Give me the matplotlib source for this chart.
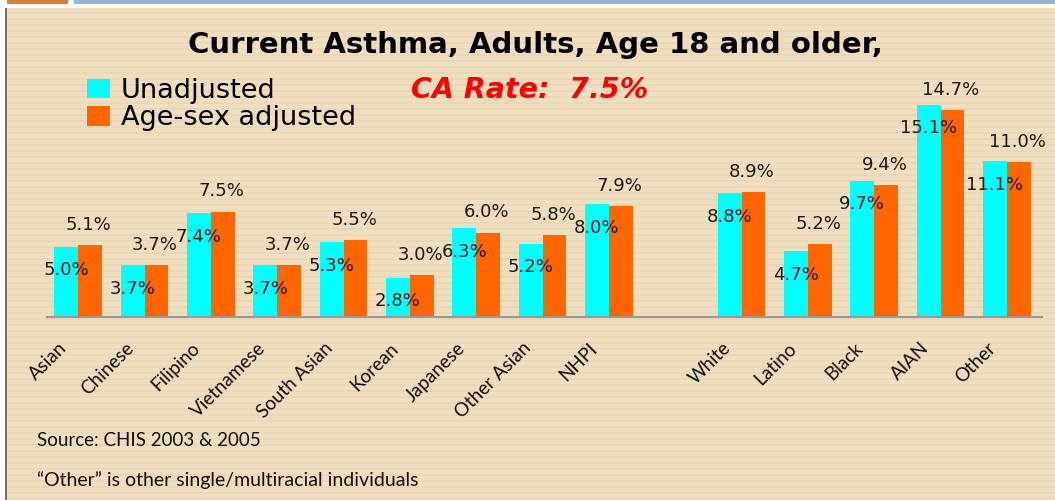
import matplotlib
matplotlib.use("Agg")
import matplotlib.pyplot as plt
from matplotlib.transforms import ScaledTranslation
import numpy as np

# Current asthma prevalence, adults 18+, by race/ethnicity (percent)
categories = ["Asian", "Chinese", "Filipino", "Vietnamese", "South Asian", "Korean",
              "Japanese", "Other Asian", "NHPI", "White", "Latino", "Black", "AIAN", "Other"]
unadjusted = [5.0, 3.7, 7.4, 3.7, 5.3, 2.8, 6.3, 5.2, 8.0, 8.8, 4.7, 9.7, 15.1, 11.1]
age_sex_adjusted = [5.1, 3.7, 7.5, 3.7, 5.5, 3.0, 6.0, 5.8, 7.9, 8.9, 5.2, 9.4, 14.7, 11.0]
series_names = ["Unadjusted", "Age-sex adjusted"]
title_text = "Current Asthma, Adults, Age 18 and older,"
rate_text = "CA Rate:  7.5%"
notes = ["Source: CHIS 2003 & 2005", "\u201cOther\u201d is other single/multiracial individuals"]

CYAN = "#00FFFF"
ORANGE = "#FF6600"

W, H = 1055, 500
fig = plt.figure(figsize=(W / 100, H / 100), dpi=100)

# slide background: striped beige panel, thin header bars, left border
bg = np.ones((H, W, 3))
base = np.array([239, 223, 192]) / 255
stripe = np.array([234, 216, 183]) / 255
rows = np.arange(H)
panel = np.where(((rows % 6) < 2)[:, None], stripe, base)
bg[8:, 6:, :] = panel[8:, None, :]
bg[8:, 5:7, :] = np.array([120, 110, 95]) / 255
bg[0:4, 7:68, :] = np.array([224, 123, 57]) / 255
bg[0:4, 74:, :] = np.array([149, 179, 215]) / 255
fig.figimage(bg, 0, 0, zorder=-10)

ax = fig.add_axes([47 / W, (H - 317) / H, 995 / W, 225 / H])
ax.set_zorder(2)
ax.patch.set_alpha(0)

# leave one empty slot between the Asian subgroups and the other groups
pos = np.array([i if i < 9 else i + 1 for i in range(len(categories))], dtype=float)
bw = 0.36
b1 = ax.bar(pos - bw / 2, unadjusted, bw, color=CYAN, label=series_names[0], zorder=2)
b2 = ax.bar(pos + bw / 2, age_sex_adjusted, bw, color=ORANGE, label=series_names[1], zorder=2)

for x, v in zip(pos - bw / 2, unadjusted):
    ax.annotate(f"{v:.1f}%", (x, v), xytext=(0, -17), textcoords="offset points",
                ha="center", va="center", fontsize=13, color="#1a1a1a", zorder=3)
for x, v in zip(pos + bw / 2, age_sex_adjusted):
    ax.annotate(f"{v:.1f}%", (x, v), xytext=(-1, 14.5), textcoords="offset points",
                ha="center", va="center", fontsize=13, color="#1a1a1a", zorder=3)

ax.set_xlim(-0.47, 14.53)
ax.set_ylim(0, 16)
ax.set_yticks([])
ax.set_xticks(pos)
ax.set_xticklabels(categories, rotation=45, ha="right", va="center",
                   rotation_mode="anchor", fontfamily="Lato", fontsize=13.5, color="#111111")
ax.tick_params(axis="x", length=0, pad=20.5)
# rotated labels sit a little to the left of their category
shift = ScaledTranslation(-14 / 100, 0, fig.dpi_scale_trans)
for lbl in ax.get_xticklabels():
    lbl.set_transform(lbl.get_transform() + shift)
for s in ("top", "right", "left"):
    ax.spines[s].set_visible(False)
ax.spines["bottom"].set_color("#9a9a9a")
ax.spines["bottom"].set_linewidth(1.5)

fig.text(535 / W, 1 - 45 / H, title_text, ha="center", va="center",
         fontsize=21, fontweight="bold", color="black")
fig.text(530 / W, 1 - 90 / H, rate_text, ha="center", va="center",
         fontsize=20.5, fontweight="bold", style="italic", color="#FF0000")

fig.legend(handles=[b1, b2], loc="upper left", bbox_to_anchor=(87 / W, 1 - 78 / H),
           frameon=False, fontsize=19.5, handlelength=0.85, handleheight=0.75,
           handletextpad=0.4, labelspacing=0.05, borderaxespad=0, borderpad=0)

fig.text(37 / W, 1 - 441 / H, notes[0], ha="left", va="center",
         fontfamily="Lato", fontsize=13.5, color="#111111")
fig.text(37 / W, 1 - 480 / H, notes[1], ha="left", va="center",
         fontfamily="Lato", fontsize=14, color="#111111")

fig.savefig("out.png", dpi=100)
